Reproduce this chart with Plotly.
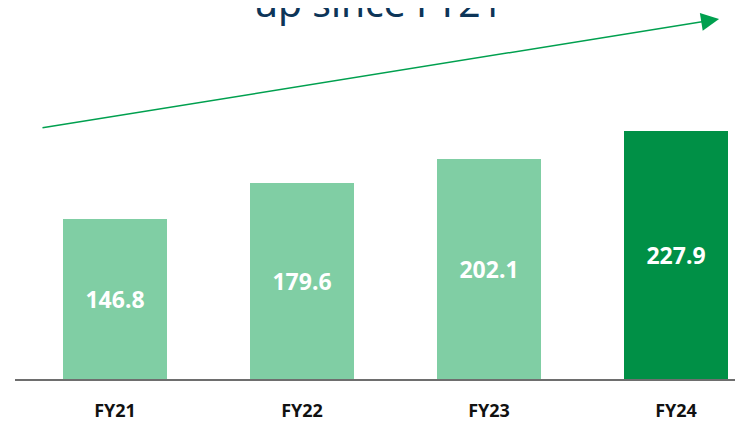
import plotly.graph_objects as go

categories = ["FY21", "FY22", "FY23", "FY24"]
values = [146.8, 179.6, 202.1, 227.9]
labels = ["146.8", "179.6", "202.1", "227.9"]
title_text = "up since FY21"

light = "#80CEA4"
dark = "#009046"
colors = [light, light, light, dark]

x_idx = list(range(len(categories)))

# page is rendered with an 8px body margin; figure sized to fill the rest
W, H = 735, 414
ML, MB = 7, 43
plot_h = H - MB
px_per_unit = 1.09

fig = go.Figure()
fig.add_trace(go.Bar(
    x=x_idx, y=values, width=0.556,
    marker=dict(color=colors, line=dict(width=0)),
    text=labels, textposition="inside", insidetextanchor="middle",
    textfont=dict(color="white", size=23, family="Noto Sans", weight="bold"),
    showlegend=False,
))

fig.add_annotation(
    x=3.23, y=330.3, ax=-0.396, ay=230.3,
    xref="x", yref="y", axref="x", ayref="y",
    showarrow=True, arrowhead=2, arrowsize=2.4, arrowwidth=1.5,
    arrowcolor="#00A04F", text="",
)

fig.add_annotation(
    x=(370 - ML) / (W - ML), y=1 - 22 / plot_h, xref="paper", yref="paper",
    text=title_text, showarrow=False,
    font=dict(size=39, color="#0D3558", family="Noto Sans"),
    xanchor="center", yanchor="bottom",
)

fig.update_layout(
    width=W, height=H,
    margin=dict(l=ML, r=0, t=0, b=MB),
    paper_bgcolor="white", plot_bgcolor="white",
    xaxis=dict(
        range=[-0.535, 3.358], tickmode="array", tickvals=x_idx, ticktext=categories,
        showgrid=False, zeroline=False, showline=True, linecolor="#6E6E6E", linewidth=1.5,
        tickfont=dict(size=18, color="#111111", family="Noto Sans", weight="bold"),
        ticks="", ticklabelstandoff=15,
    ),
    yaxis=dict(range=[0, plot_h / px_per_unit], visible=False, showgrid=False, zeroline=False),
    bargap=0,
)

fig.write_html("out.html")
